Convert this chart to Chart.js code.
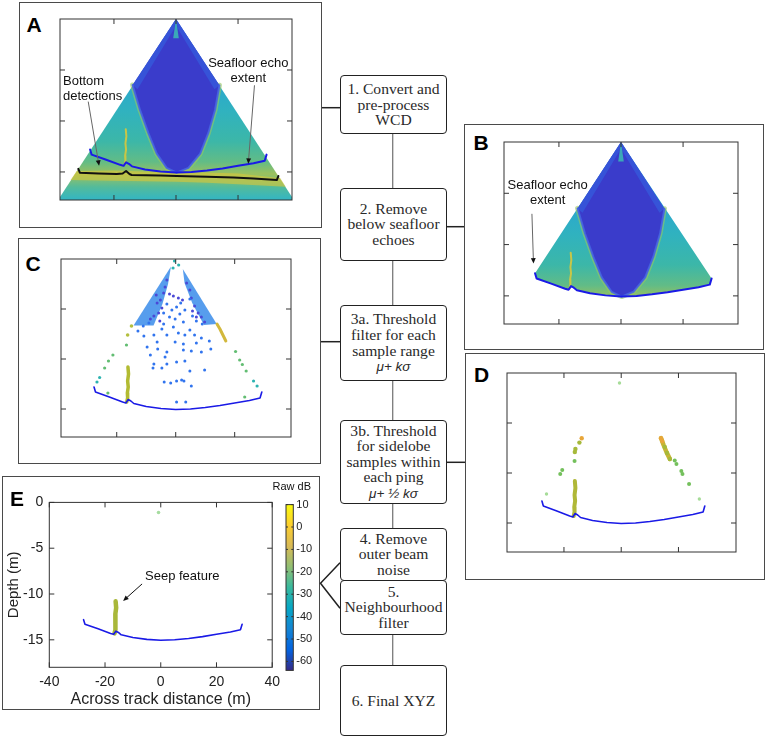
<!DOCTYPE html>
<html>
<head>
<meta charset="utf-8">
<script src="https://cdn.jsdelivr.net/npm/chart.js@4.4.0/dist/chart.umd.min.js"></script>
<style>
  body { margin: 0; background: #fff; width: 768px; height: 739px; position: relative; overflow: hidden; font-family: "Liberation Sans", Arial, sans-serif; }
  .abs { position: absolute; }
  .panel { position: absolute; border: 1.5px solid #4a4a4a; box-sizing: border-box; }
  .letter { position: absolute; font: bold 21px/21px "Liberation Sans", Arial, sans-serif; color: #000; }
  .note { position: absolute; font-size: 13px; line-height: 15px; color: #111; white-space: nowrap; }
  .step { position: absolute; left: 340px; width: 107px; box-sizing: border-box; border: 1.5px solid #222; border-radius: 4px;
          background: #fff; display: flex; align-items: center; justify-content: center; text-align: center;
          font-family: "Liberation Serif", serif; font-size: 15.6px; line-height: 15.6px; color: #2a2a2a; white-space: nowrap; }
  .step i { font-family: "Liberation Sans", Arial, sans-serif; font-size: 13.5px; }
  canvas { position: absolute; }
</style>
</head>
<body>

<!-- panel frames -->
<div class="panel" style="left:19px;top:2px;width:303px;height:226px"></div>
<div class="panel" style="left:464px;top:124px;width:300px;height:226px"></div>
<div class="panel" style="left:18px;top:238px;width:303px;height:226px"></div>
<div class="panel" style="left:465px;top:353px;width:300px;height:227px"></div>
<div class="panel" style="left:2px;top:476px;width:318px;height:234px"></div>

<!-- connectors -->
<svg class="abs" width="768" height="739" style="left:0;top:0">
  <line x1="392.7" y1="134" x2="392.7" y2="665" stroke="#7a7a7a" stroke-width="1.3"/>
  <g stroke="#222" stroke-width="1.5" fill="none">
    <line x1="322" y1="107.7" x2="340" y2="107.7"/>
    <line x1="447" y1="226.7" x2="464" y2="226.7"/>
    <line x1="321" y1="341.7" x2="340" y2="341.7"/>
    <line x1="447" y1="462.3" x2="465" y2="462.3"/>
    <polyline points="340,562.7 320.5,583.3 340,608.3"/>
  </g>
</svg>

<canvas id="chartA" width="236" height="185" style="left:58px;top:17px"></canvas>
<canvas id="chartB" width="238" height="186" style="left:502px;top:140px"></canvas>
<canvas id="chartC" width="238" height="186" style="left:57px;top:255px"></canvas>
<canvas id="chartD" width="237" height="187" style="left:503px;top:369px"></canvas>
<canvas id="chartE" width="286" height="225" style="left:0px;top:488px"></canvas>
<canvas id="cbar" width="52" height="185" style="left:280px;top:495px"></canvas>

<!-- flowchart -->
<div class="step" style="top:75px;height:59px"><div>1. Convert and<br>pre-process<br>WCD</div></div>
<div class="step" style="top:187.7px;height:73px"><div>2. Remove<br>below seafloor<br>echoes</div></div>
<div class="step" style="top:305px;height:76px"><div>3a. Threshold<br>filter for each<br>sample range<br><i>μ+ kσ</i></div></div>
<div class="step" style="top:420px;height:84px"><div>3b. Threshold<br>for sidelobe<br>samples within<br>each ping<br><i>μ+ ½ kσ</i></div></div>
<div class="step" style="top:527.7px;height:53px"><div>4. Remove<br>outer beam<br>noise</div></div>
<div class="step" style="top:579.5px;height:55px"><div>5.<br>Neighbourhood<br>filter</div></div>
<div class="step" style="top:665px;height:71px"><div>6. Final XYZ</div></div>

<!-- labels -->
<div class="letter" style="left:26.5px;top:14px">A</div>
<div class="letter" style="left:473.5px;top:132.3px">B</div>
<div class="letter" style="left:25.5px;top:253px">C</div>
<div class="letter" style="left:474px;top:364px">D</div>
<div class="letter" style="left:10px;top:488px">E</div>

<div class="note" style="left:63px;top:73.3px">Bottom<br>detections</div>
<div class="note" style="left:198.3px;top:54.6px;width:100px;text-align:center">Seafloor echo<br>extent</div>
<div class="note" style="left:497.7px;top:177.3px;width:100px;text-align:center">Seafloor echo<br>extent</div>
<div class="note" style="left:145px;top:568px">Seep feature</div>
<div class="note" style="left:272.5px;top:479.5px;font-size:11px;line-height:13px">Raw dB</div>

<script>
// ---- data: across-track distance (m) and depth (m) ----
// seafloor echo extent (blue line, all panels)
const seafloorX = [-27.7, -27.2, -22.5, -18.0, -16.9, -16.1, -15.2, -14.2, -10.0, -5.0, 0.0, 5.0, 10.0, 15.0, 20.0, 25.0, 28.6, 29.2];
const seafloorY = [-12.8, -13.3, -13.8, -14.3, -14.4, -14.05, -14.2, -14.45, -14.75, -14.95, -15.05, -15.0, -14.85, -14.65, -14.4, -14.15, -13.9, -13.3];
// bottom detections (black line, panel A)
const bottomX = [-31.5, -31.0, -25.0, -19.1, -17.2, -16.1, -15.0, -14.3, -5.0, 0.2, 10.0, 18.5, 25.0, 32.5, 33.0];
const bottomY = [-14.7, -15.07, -15.15, -15.2, -15.15, -14.9, -15.2, -15.3, -15.35, -15.4, -15.48, -15.55, -15.65, -15.8, -15.4];
// strong seafloor return band around the bottom detections (panel A)
const bandX = [-32.0, -20, -10, 0, 10, 20, 33.6, 35.4, 20, 10, 0, -10, -20, -34.0];
const bandY = [-14.9, -14.85, -14.95, -15.0, -15.05, -15.15, -15.6, -16.45, -16.2, -16.05, -15.95, -15.9, -15.85, -15.8];
// swath wedge and the minimum slant range arc (low backscatter zone)
const wedgeX = [0, -45, 45, 0];
const wedgeY = [0, -21, -21, 0];
const arcX = [-14.0, -11.6, -8.9, -6.2, -3.0, 0.2, 4.0, 7.8, 10.4, 12.6, 14.0];
const arcY = [-6.47, -8.92, -11.2, -13.2, -14.6, -15.07, -14.6, -13.2, -11.2, -8.9, -6.5];
const glowLX = [0, -14.0, -12.4, -0.5], glowLY = [0, -6.47, -6.9, -0.9];
const glowRX = [0, 14.0, 12.4, 0.5], glowRY = [0, -6.5, -6.9, -0.9];
const apexX = [0, -0.9, 0.9, 0], apexY = [0, -1.9, -1.9, 0];
// seep feature
const seepX = [-16.2, -16.0, -16.3, -16.1, -16.4, -16.3, -16.6];
const seepY = [-10.8, -11.5, -12.2, -12.8, -13.4, -13.9, -14.3];

// panel C: after sample-range threshold
const cBandLX = [-1.6, -14.3, -7.5, -4.5, -2.6], cBandLY = [-0.75, -6.65, -6.65, -4.5, -2.5];
const cBandRX = [2.4, 13.9, 9.6, 5.6, 3.0], cBandRY = [-1.0, -6.5, -6.6, -4.4, -2.4];
const cVioletX = [-6.3, -5.2, -4.7, -5.8, -4.1, -3.6, -7.4, -8.6, -5.4, -3.0, -6.6, 4.8, 5.3, 6.4, 7.6, 5.7, 8.7, 3.7, 7.0, 9.8, -2.1, -0.8, 0.9, 2.3];
const cVioletY = [-4.4, -4.1, -4.9, -5.4, -3.4, -2.8, -5.7, -6.0, -6.2, -2.1, -3.6, -3.1, -3.9, -4.7, -5.4, -5.2, -5.8, -2.4, -5.8, -6.3, -3.5, -3.7, -3.9, -4.1];
const cBlueX = [4.8, 1.7, -3.0, 0.3, -1.3, 3.1, -4.1, 1.4, 5.7, -2.1, -0.2, -9.1, -11.0, -12.8, -4.1, 2.6, 7.0, 9.0, -4.7, -0.8, 0.9, 4.8, -7.4, -10.8, -3.0, 3.1, 6.4, 8.7, -6.3, -0.2, 2.6, 7.0, 11.4, -9.7, -6.1, -3.0, 2.6, 5.3, 8.7, 11.9, -8.6, -3.6, 0.3, 3.1, -3.0, -7.4, -7.7, -4.7, 4.8, 9.8, 2.0, -3.9, -1.7, 0.3, 2.8, 5.3, 0.3, 3.4];
const cBlueY = [-4.0, -4.4, -4.5, -4.8, -5.1, -5.1, -5.4, -5.5, -5.7, -5.8, -6.0, -6.4, -6.7, -7.2, -6.5, -6.3, -6.2, -6.5, -7.0, -6.8, -7.4, -7.1, -7.6, -7.7, -7.6, -7.6, -7.6, -7.9, -8.3, -8.3, -8.5, -8.4, -8.2, -8.8, -9.0, -9.3, -9.1, -9.2, -9.3, -9.0, -9.6, -9.8, -10.3, -10.2, -10.5, -10.5, -10.9, -10.9, -11.2, -11.1, -12.1, -12.3, -12.4, -12.2, -12.2, -12.7, -14.3, -14.3];
const cTealX = [-0.4, 1.0, -0.9, -26.7, -25.8, 27.6, 26.4], cTealY = [-0.2, -0.6, -0.9, -12.3, -11.85, -12.7, -12.2];
const cGreenX = [-16.7, -21.3, -22.8, -24.1, -23.0, 20.3, 21.7, 22.6, 23.9, 23.4];
const cGreenY = [-8.6, -9.6, -10.2, -10.9, -13.4, -9.25, -10.1, -10.55, -11.2, -13.8];
const cYellowX = [-15.0, -16.3], cYellowY = [-6.7, -7.6];
const cSideX = [14.0, 15.0, 16.0, 17.0], cSideY = [-6.5, -7.0, -7.6, -8.2];

// panel D: after sidelobe threshold
const dOrangeX = [-13.8, 13.9, 14.3], dOrangeY = [-6.53, -6.53, -6.8];
const dLimeX = [-14.6, -16.0, -16.2, 15.2, 16.0, 17.0], dLimeY = [-6.96, -7.6, -7.9, -7.4, -8.0, -8.6];
const dGreenX = [-16.3, -20.6, -21.3, 18.7, 19.3, 21.0, 21.4, 23.7], dGreenY = [-8.8, -9.7, -10.1, -8.75, -9.1, -9.8, -10.1, -11.1];
const dPaleX = [-26.1, 27.3, -0.6], dPaleY = [-12.1, -12.6, -1.0];
const dStreakX = [13.9, 14.8, 15.8, 17.0], dStreakY = [-6.5, -7.2, -7.9, -8.6];

// panel E: final XYZ
const eDotX = [-0.8], eDotY = [-1.1];

// axes
const panelXTicks = [-20, 0, 20];
const panelYTicks = [-15, -10, -5];
const eXTicks = [-40, -20, 0, 20, 40];
const eYTicks = [-15, -10, -5, 0];
const cbTicks = [-60, -50, -40, -30, -20, -10, 0, 10];
const cbRange = [-64, 10];

// ---- chart setup ----
Chart.defaults.animation = false;
Chart.defaults.responsive = false;
Chart.defaults.events = [];
Chart.defaults.plugins.legend.display = false;
Chart.defaults.plugins.tooltip.enabled = false;
Chart.defaults.font.family = '"Liberation Sans", Arial, sans-serif';
Chart.defaults.color = '#222';

const CLEAR = 'rgba(0,0,0,0)';
const pts = (xs, ys) => xs.map((x, i) => ({x, y: ys[i]}));
const closed = (xs, ys) => [[...xs, xs[0]], [...ys, ys[0]]];

function shape(xs, ys, color) {
  return {data: pts(xs, ys), showLine: true, fill: 'shape', backgroundColor: color,
          borderColor: CLEAR, borderWidth: 0, pointRadius: 0, tension: 0};
}
function path(xs, ys, color, width) {
  return {data: pts(xs, ys), showLine: true, fill: false, borderColor: color, borderWidth: width,
          pointRadius: 0, tension: 0, borderCapStyle: 'round', borderJoinStyle: 'round'};
}
function dots(xs, ys, color, r) {
  return {data: pts(xs, ys), showLine: false, fill: false, backgroundColor: color,
          borderColor: color, borderWidth: 0, pointRadius: r};
}
// list is written bottom layer first
function layered(list) {
  return list.map((d, i) => Object.assign(d, {order: list.length - i}));
}

function depthGradient(stops) {
  return (c) => {
    const chart = c.chart;
    if (!chart.chartArea || !chart.scales.y) return stops[2][1];
    const y = chart.scales.y;
    const g = chart.ctx.createLinearGradient(0, y.getPixelForValue(0), 0, y.getPixelForValue(-18));
    stops.forEach(([d, col]) => g.addColorStop(Math.min(1, -d / 18), col));
    return g;
  };
}
const parula = ['#352a87', '#0363e1', '#1485d4', '#06a7c6', '#38b99e', '#92bf73', '#d9ba56', '#fcce2e', '#f9fb0e'];
function parulaFill(c) {
  const chart = c.chart, a = chart.chartArea;
  if (!a) return parula[4];
  const g = chart.ctx.createLinearGradient(0, a.bottom, 0, a.top);
  parula.forEach((col, i) => g.addColorStop(i / (parula.length - 1), col));
  return g;
}

const framePlugin = {
  id: 'frame',
  defaults: {len: 5, color: '#333', xTicks: true},
  afterDraw(chart, args, opts) {
    const {ctx, chartArea: a, scales} = chart;
    ctx.save();
    ctx.strokeStyle = opts.color;
    ctx.lineWidth = 1;
    ctx.strokeRect(a.left, a.top, a.right - a.left, a.bottom - a.top);
    ctx.beginPath();
    if (opts.xTicks) scales.x.ticks.forEach(t => {
      const p = scales.x.getPixelForValue(t.value);
      ctx.moveTo(p, a.bottom); ctx.lineTo(p, a.bottom - opts.len);
      ctx.moveTo(p, a.top); ctx.lineTo(p, a.top + opts.len);
    });
    scales.y.ticks.forEach(t => {
      const p = scales.y.getPixelForValue(t.value);
      ctx.moveTo(a.left, p); ctx.lineTo(a.left + opts.len, p);
      ctx.moveTo(a.right, p); ctx.lineTo(a.right - opts.len, p);
    });
    ctx.stroke();
    ctx.restore();
  }
};
const arrowPlugin = {
  id: 'arrows',
  defaults: {list: []},
  afterDatasetsDraw(chart, args, opts) {
    const {ctx, scales: {x, y}} = chart;
    opts.list.forEach(a => {
      const x0 = x.getPixelForValue(a.from[0]), y0 = y.getPixelForValue(a.from[1]);
      const x1 = x.getPixelForValue(a.to[0]), y1 = y.getPixelForValue(a.to[1]);
      const ang = Math.atan2(y1 - y0, x1 - x0), h = 6;
      ctx.save();
      ctx.strokeStyle = a.color; ctx.fillStyle = '#111'; ctx.lineWidth = a.width;
      ctx.beginPath(); ctx.moveTo(x0, y0);
      ctx.lineTo(x1 - Math.cos(ang) * h * 0.8, y1 - Math.sin(ang) * h * 0.8); ctx.stroke();
      ctx.beginPath(); ctx.moveTo(x1, y1);
      ctx.lineTo(x1 - h * Math.cos(ang - 0.42), y1 - h * Math.sin(ang - 0.42));
      ctx.lineTo(x1 - h * Math.cos(ang + 0.42), y1 - h * Math.sin(ang + 0.42));
      ctx.closePath(); ctx.fill();
      ctx.restore();
    });
  }
};
Chart.register(framePlugin, arrowPlugin);

function setTicks(vals) {
  return s => { s.ticks = vals.map(v => ({value: v})); };
}
function hiddenScale(min, max, vals) {
  return {type: 'linear', min, max, ticks: {display: false}, grid: {display: false, drawTicks: false}, border: {display: false},
          afterBuildTicks: setTicks(vals),
          afterFit: s => { if (s.isHorizontal()) s.height = 0; else s.width = 0; }};
}
function panel(id, xr, yr, datasets, arrows) {
  return new Chart(document.getElementById(id), {
    type: 'line',
    data: {datasets: layered(datasets)},
    options: {
      layout: {padding: 2},
      scales: {x: hiddenScale(xr[0], xr[1], panelXTicks), y: hiddenScale(yr[0], yr[1], panelYTicks)},
      plugins: {frame: {len: 5}, arrows: {list: arrows || []}}
    }
  });
}

const wedgeFill = depthGradient([[0, '#2a8ee0'], [-6, '#2aa6cf'], [-9, '#30b2bf'], [-12, '#3cb7a8'],
  [-14, '#62bc86'], [-15.2, '#9cc05e'], [-16.5, '#52bb9c'], [-18, '#2cb4cc']]);
const sectorBlue = '#3a3ccb';
const rimBlue = 'rgba(70,100,226,0.9)';
const glowBlue = 'rgba(52,96,222,0.65)';
const arcGreen = 'rgba(150,200,96,0.6)';
const lineBlue = '#1a1ae6';

const sector = closed([0, ...arcX], [0, ...arcY]);
const seafloorWedge = closed([0, ...seafloorX], [0, ...seafloorY]);

// A: converted water column data
panel('chartA', [-37.4, 37.4], [-17.75, 0], [
  shape(wedgeX, wedgeY, wedgeFill),
  path(arcX, arcY, arcGreen, 5),
  shape(bandX, bandY, 'rgba(214,198,58,0.62)'),
  path(seepX, seepY, 'rgba(215,200,60,0.9)', 2),
  shape(sector[0], sector[1], sectorBlue),
  shape(glowLX, glowLY, glowBlue),
  shape(glowRX, glowRY, glowBlue),
  path(arcX, arcY, rimBlue, 2),
  shape(apexX, apexY, '#3aa8b8'),
  path(seafloorX, seafloorY, lineBlue, 2),
  path(bottomX, bottomY, '#111', 2)
], [
  {from: [-28.3, -8.1], to: [-24.8, -14.4], color: '#666', width: 1},
  {from: [25.3, -6.5], to: [23.3, -14.2], color: '#666', width: 1}
]);

// B: below-seafloor echoes removed
panel('chartB', [-37.7, 37.7], [-17.74, 0], [
  shape(seafloorWedge[0], seafloorWedge[1], wedgeFill),
  path(arcX, arcY, arcGreen, 5),
  path(seepX, seepY, 'rgba(215,200,60,0.9)', 2),
  shape(sector[0], sector[1], sectorBlue),
  shape(glowLX, glowLY, glowBlue),
  shape(glowRX, glowRY, glowBlue),
  path(arcX, arcY, rimBlue, 2),
  shape(apexX, apexY, '#3aa8b8'),
  path(seafloorX, seafloorY, lineBlue, 2)
], [
  {from: [-28.7, -7.0], to: [-28.2, -11.85], color: '#666', width: 1}
]);

// C: sample-range threshold
panel('chartC', [-38.9, 39.1], [-17.8, 0], [
  shape(cBandLX, cBandLY, 'rgba(58,140,234,0.85)'),
  shape(cBandRX, cBandRY, 'rgba(58,140,234,0.85)'),
  dots(cVioletX, cVioletY, '#4a48d6', 1.5),
  dots(cBlueX, cBlueY, '#3174ee', 1.5),
  dots(cTealX, cTealY, '#2cb3b0', 1.6),
  dots(cGreenX, cGreenY, '#62bd72', 1.6),
  dots(cYellowX, cYellowY, '#b4bf3e', 1.8),
  path(cSideX, cSideY, '#d2b83c', 3),
  path(seepX, seepY, '#b2bb32', 3.5),
  path(seafloorX, seafloorY, lineBlue, 1.6)
]);

// D: sidelobe threshold
panel('chartD', [-39.9, 40.1], [-17.9, 0], [
  path(dStreakX, dStreakY, '#c8b434', 4.5),
  dots(dPaleX, dPaleY, '#a6dc98', 1.7),
  dots(dGreenX, dGreenY, '#74c05c', 2),
  dots(dLimeX, dLimeY, '#a6b93a', 2.2),
  dots(dOrangeX, dOrangeY, '#e8a63a', 2.2),
  path(seepX, seepY, '#b0b838', 4),
  path(seafloorX, seafloorY, lineBlue, 1.6)
]);

// E: final XYZ with labelled axes
new Chart(document.getElementById('chartE'), {
  type: 'line',
  data: {datasets: layered([
    path(seepX, seepY, '#a9b83a', 4.5),
    dots(eDotX, eDotY, '#a6dca0', 1.8),
    path(seafloorX, seafloorY, lineBlue, 1.6)
  ])},
  options: {
    layout: {padding: {top: 11, right: 10.7, left: 0, bottom: 0}},
    scales: {
      x: {type: 'linear', min: -40, max: 40, afterBuildTicks: setTicks(eXTicks),
          ticks: {font: {size: 14}, padding: 6, autoSkip: false, maxRotation: 0},
          grid: {display: false, drawTicks: false}, border: {display: false},
          title: {display: true, text: 'Across track distance (m)', font: {size: 16}, padding: {top: 0, bottom: 4}},
          afterFit: s => { s.height = 45.7; }},
      y: {type: 'linear', min: -18, max: 0, afterBuildTicks: setTicks(eYTicks),
          ticks: {font: {size: 14}, padding: 6, autoSkip: false},
          grid: {display: false, drawTicks: false}, border: {display: false},
          title: {display: true, text: 'Depth (m)', font: {size: 15}, padding: {top: 5, bottom: 0}},
          afterFit: s => { s.width = 49.3; }}
    },
    plugins: {
      frame: {len: 5},
      arrows: {list: [{from: [-6.7, -8.9], to: [-13.5, -10.75], color: '#111', width: 1}]}
    }
  }
});

// colour bar
new Chart(document.getElementById('cbar'), {
  type: 'bar',
  data: {labels: ['Raw dB'], datasets: [{data: [cbRange], backgroundColor: parulaFill, borderWidth: 0,
         barPercentage: 1, categoryPercentage: 1}]},
  options: {
    layout: {padding: {left: 6, top: 8.3, bottom: 9, right: 0}},
    scales: {
      x: {display: false},
      y: {position: 'right', min: cbRange[0], max: cbRange[1], afterBuildTicks: setTicks(cbTicks),
          ticks: {font: {size: 11}, padding: 3, autoSkip: false},
          grid: {display: false, drawTicks: false}, border: {display: false},
          afterFit: s => { s.width = 38.7; }}
    },
    plugins: {frame: {len: 2, xTicks: false}}
  }
});
</script>
</body>
</html>
